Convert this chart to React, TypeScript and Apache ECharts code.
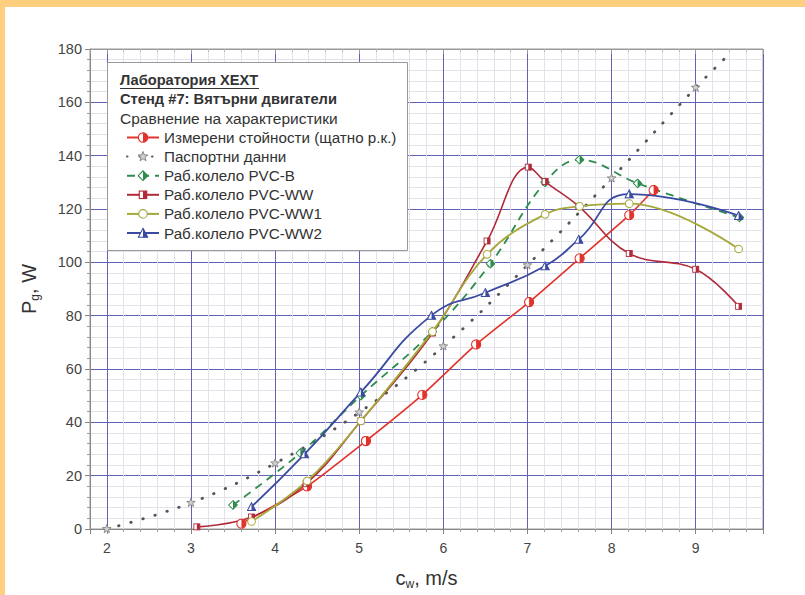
import React, { useEffect, useRef } from "react";
import * as echarts from "echarts";

// ---- data ----
const measured: [number, number][] = [
  [3.6, 2], [4.38, 16], [5.08, 33], [5.75, 50.3], [6.39, 69.2], [7.02, 85.1], [7.62, 101.5], [8.21, 117.7], [8.5, 127.1],
];
const passport: [number, number][] = [
  [2, 0], [3, 9.8], [4, 24.6], [5, 43.7], [6, 68.5], [7, 98.9], [8, 131.5], [9, 165.5], [9.38, 177.5],
];
const pvcB: [number, number][] = [
  [3.5, 9], [4.3, 28.5], [5.02, 50], [5.87, 74], [6.56, 99.5], [7.21, 130], [7.62, 138.5], [8.31, 129.6], [9.52, 116.8],
];
const pvcWW: [number, number][] = [
  [3.07, 0.8], [3.72, 4.5], [4.37, 17], [5.02, 40.5], [5.87, 73.5], [6.52, 108], [7.01, 135.7], [7.21, 130.3], [7.61, 121], [8.21, 103.3], [9.0, 97.4], [9.51, 83.5],
];
const pvcWW1: [number, number][] = [
  [3.72, 2.8], [4.38, 18], [5.02, 40.5], [5.87, 74], [6.52, 103], [7.21, 118], [7.62, 121], [8.21, 122], [9.51, 105],
];
const pvcWW2: [number, number][] = [
  [3.72, 8.3], [4.35, 28.1], [5.02, 51.3], [5.86, 80.1], [6.5, 88.6], [7.21, 98.6], [7.61, 108.6], [8.21, 125.6], [9.51, 117.5],
];
const seriesNames = [
  "Измерени стойности (щатно р.к.)",
  "Паспортни данни",
  "Раб.колело PVC-B",
  "Раб.колело PVC-WW",
  "Раб.колело PVC-WW1",
  "Раб.колело PVC-WW2",
];
const headerLines = ["Лаборатория XEXT", "Стенд #7: Вятърни двигатели", "Сравнение на характеристики"];

const C_RED = "#e2322b";
const C_GRAY = "#555555";
const C_GREEN = "#2e8b4e";
const C_DRED = "#b02a3a";
const C_OLIVE = "#a5a83a";
const C_BLUE = "#3a4aa0";

const svgSym = (inner: string) =>
  "image://data:image/svg+xml;charset=utf-8," +
  encodeURIComponent(
    `<svg xmlns="http://www.w3.org/2000/svg" width="12" height="12" viewBox="0 0 12 12">${inner}</svg>`
  );

const symMeasured = svgSym(
  `<circle cx="6" cy="6" r="5" fill="#fff" stroke="${C_RED}" stroke-width="1.2"/><path d="M6 1 A5 5 0 0 1 6 11 Z" fill="${C_RED}"/>`
);
const symStar = svgSym(
  `<polygon points="6,0.5 7.35,4.14 11.23,4.3 8.19,6.71 9.23,10.45 6,8.3 2.77,10.45 3.81,6.71 0.77,4.3 4.65,4.14" fill="#d0d0d0" stroke="#777" stroke-width="0.9"/>`
);
const symDiamond = svgSym(
  `<polygon points="6,0.8 11.2,6 6,11.2 0.8,6" fill="#fff" stroke="${C_GREEN}" stroke-width="1.2"/><polygon points="6,0.8 11.2,6 6,11.2" fill="${C_GREEN}"/>`
);
const symSquare = svgSym(
  `<rect x="2" y="2" width="8" height="8" fill="#fff" stroke="${C_DRED}" stroke-width="1.2"/><rect x="6" y="2" width="4" height="8" fill="${C_DRED}"/>`
);
const symCircle = svgSym(`<circle cx="6" cy="6" r="4.6" fill="#fff" stroke="${C_OLIVE}" stroke-width="1.2"/>`);
const symTri = svgSym(
  `<polygon points="6,1 11,10.5 1,10.5" fill="#fff" stroke="${C_BLUE}" stroke-width="1.2"/><polygon points="6,1 11,10.5 6,10.5" fill="${C_BLUE}"/>`
);

const FONT = "'Liberation Sans', Arial, sans-serif";

export default function App() {
  const ref = useRef<HTMLDivElement>(null);
  useEffect(() => {
    if (!ref.current) return;
    const chart = echarts.init(ref.current, undefined, { renderer: "svg" });
    const mk = (
      name: string,
      data: any[],
      color: string,
      symbol: string,
      size: number,
      lineType: any,
      width: number,
      extra: any = {}
    ) => ({
      name,
      type: "line",
      data,
      smooth: 0.4,
      symbol,
      symbolSize: size,
      showSymbol: true,
      lineStyle: { color, width, type: lineType, ...(extra.line || {}) },
      itemStyle: { color },
      z: 3,
      ...(extra.series || {}),
    });
    const passportData = passport.map((p, i) =>
      i === passport.length - 1 ? { value: p, symbol: "none" } : p
    );
    chart.setOption({
      animation: false,
      backgroundColor: "#fff",
      textStyle: { fontFamily: FONT },
      grid: { left: 90, right: 42, top: 49, bottom: 62, show: true, borderColor: "#999", borderWidth: 1, containLabel: false },
      xAxis: [
        {
          type: "value",
          min: 1.8,
          max: 9.8,
          splitNumber: 8,
          name: "{a|c}{b|w}{a|, m/s}",
          nameLocation: "middle",
          nameGap: 37,
          nameTextStyle: {
            rich: {
              a: { fontSize: 20, color: "#333", fontFamily: FONT },
              b: { fontSize: 12, color: "#333", fontFamily: FONT, padding: [12, 0, 0, 0] },
            },
          },
          axisLabel: { showMinLabel: false, showMaxLabel: false, fontSize: 14, color: "#444", margin: 12, fontFamily: FONT },
          axisLine: { show: true, lineStyle: { color: "#888" } },
          axisTick: { show: true, length: 5, lineStyle: { color: "#888" } },
          minorTick: { show: true, splitNumber: 5, length: 3, lineStyle: { color: "#999" } },
          splitLine: { show: true, lineStyle: { color: "#6262b4", width: 1 } },
          minorSplitLine: { show: true, lineStyle: { color: "#e2e2ea", width: 1 } },
        },
        {
          type: "value",
          position: "top",
          min: 1.8,
          max: 9.8,
          splitNumber: 8,
          axisLabel: { show: false },
          axisLine: { show: true, lineStyle: { color: "#999" } },
          axisTick: { show: true, inside: true, length: 5, lineStyle: { color: "#999" } },
          minorTick: { show: true, splitNumber: 5, length: 3, lineStyle: { color: "#bbb" } },
          splitLine: { show: false },
        },
      ],
      yAxis: {
        type: "value",
        min: 0,
        max: 180,
        interval: 20,
        name: "{a|P}{b|g}{a|, W}",
        nameLocation: "middle",
        nameGap: 49,
        nameRotate: 90,
        nameTextStyle: {
          rich: {
            a: { fontSize: 20, color: "#333", fontFamily: FONT },
            b: { fontSize: 12, color: "#333", fontFamily: FONT, padding: [12, 0, 0, 0] },
          },
        },
        axisLabel: { fontSize: 14.5, color: "#444", margin: 8, fontFamily: FONT },
        axisLine: { show: true, lineStyle: { color: "#888" } },
        axisTick: { show: true, length: 5, lineStyle: { color: "#888" } },
        minorTick: { show: true, splitNumber: 5, length: 3, lineStyle: { color: "#999" } },
        splitLine: { show: true, lineStyle: { color: "#6262b4", width: 1 } },
        minorSplitLine: { show: true, lineStyle: { color: "#e2e2ea", width: 1 } },
      },
      legend: {
        data: seriesNames,
        orient: "vertical",
        left: 121,
        top: 125,
        itemGap: 4.1,
        itemWidth: 32,
        itemHeight: 14,
        selectedMode: false,
        z: 20,
        textStyle: { fontSize: 15.2, color: "#333", fontFamily: FONT, lineHeight: 14.4 },
      },
      graphic: [
        { type: "rect", shape: { x: 0, y: 0, width: 805, height: 7 }, style: { fill: "#ffcf80" }, z: 30 },
        { type: "rect", shape: { x: 0, y: 0, width: 5, height: 595 }, style: { fill: "#ffcf80" }, z: 30 },
        {
          type: "rect",
          shape: { x: 107.5, y: 62.5, width: 300, height: 188 },
          style: { fill: "#fff", stroke: "#999", lineWidth: 1 },
          z: 10,
        },
        {
          type: "text",
          x: 120,
          y: 80,
          z: 11,
          style: { text: headerLines[0], font: `bold 14.6px ${FONT}`, fill: "#333", verticalAlign: "middle" },
        },
        { type: "line", shape: { x1: 120, y1: 88.5, x2: 259, y2: 88.5 }, style: { stroke: "#333", lineWidth: 1 }, z: 11 },
        {
          type: "text",
          x: 120,
          y: 99,
          z: 11,
          style: { text: headerLines[1], font: `bold 14.7px ${FONT}`, fill: "#333", verticalAlign: "middle" },
        },
        {
          type: "text",
          x: 120,
          y: 118,
          z: 11,
          style: { text: headerLines[2], font: `15.5px ${FONT}`, fill: "#333", verticalAlign: "middle" },
        },
      ],
      series: [
        mk(seriesNames[0], measured, C_RED, symMeasured, 11, "solid", 1.6, { series: { smooth: 0.2 } }),
        {
          ...mk(seriesNames[1], passportData, C_GRAY, symStar, 10, [0.5, 12], 2.8),
          lineStyle: { color: C_GRAY, width: 2.8, type: [0.5, 12], cap: "round" },
        },
        mk(seriesNames[2], pvcB, C_GREEN, symDiamond, 10, [8, 6], 1.8),
        mk(seriesNames[3], pvcWW, C_DRED, symSquare, 9, "solid", 1.6),
        mk(seriesNames[4], pvcWW1, C_OLIVE, symCircle, 10, "solid", 1.8),
        mk(seriesNames[5], pvcWW2, C_BLUE, symTri, 10, "solid", 1.8, { series: { smooth: 0.5 } }),
      ],
    });
    return () => chart.dispose();
  }, []);
  return (
    <div
      ref={ref}
      style={{ position: "absolute", left: 0, top: 0, width: 805, height: 595 }}
    />
  );
}
